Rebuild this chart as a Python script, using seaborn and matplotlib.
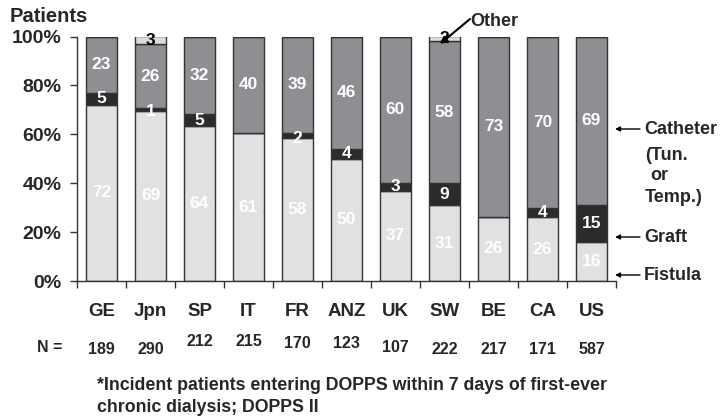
#!/usr/bin/env python3
import numpy as np
import pandas as pd
import seaborn as sns
import matplotlib.pyplot as plt

countries = ["GE", "Jpn", "SP", "IT", "FR", "ANZ", "UK", "SW", "BE", "CA", "US"]
n_patients = [189, 290, 212, 215, 170, 123, 107, 222, 217, 171, 587]
fistula = [72, 69, 64, 61, 58, 50, 37, 31, 26, 26, 16]
graft = [5, 1, 5, 0, 2, 4, 3, 9, 0, 4, 15]
catheter = [23, 26, 32, 40, 39, 46, 60, 58, 73, 70, 69]
other = [0, 3, 0, 0, 0, 0, 0, 2, 0, 0, 0]

W, H = 722, 418
# vertical pixel position of each N label (they are not on one line in the original)
n_ypx = [350, 350, 342, 342, 343, 343, 347, 350, 350, 350, 350]


def fx(px):
    return px / W


def fy(py):
    return 1 - py / H


def main():
    sns.set_style("white")
    plt.rcParams["font.family"] = ["Liberation Sans", "DejaVu Sans"]
    plt.rcParams["font.weight"] = "bold"

    df = pd.DataFrame({"country": countries, "fistula": fistula, "graft": graft,
                       "catheter": catheter, "other": other})
    total = df[["fistula", "graft", "catheter", "other"]].sum(axis=1)
    layers = [("fistula", "#e1e1e3", "white"),
              ("graft", "#2b2b2b", "white"),
              ("catheter", "#8e8f92", "white"),
              ("other", "#dcdcdc", "black")]

    fig = plt.figure(figsize=(W / 100, H / 100), dpi=100)
    ax = fig.add_axes([fx(77), fy(281), fx(616) - fx(77), fy(36.5) - fy(281)])

    bottom = np.zeros(len(df))
    for col, color, tc in layers:
        h = (df[col] / total * 100).to_numpy()
        sns.barplot(x=df["country"], y=h, bottom=bottom, color=color, saturation=1,
                    width=0.63, edgecolor="#333333", linewidth=1, ax=ax)
        for i, v in enumerate(df[col]):
            if v > 0:
                y = bottom[i] + h[i] / 2
                if col == "graft" and h[i] < 3:
                    y = bottom[i] - 0.5
                ax.text(i, y, str(v), ha="center", va="center", color=tc,
                        fontsize=12.5, fontweight="bold")
        bottom += h

    ax.set_xlim(-0.5, len(df) - 0.5)
    ax.set_ylim(0, 100)
    ax.set_yticks(range(0, 101, 20))
    ax.set_yticklabels([f"{t}%" for t in range(0, 101, 20)], fontsize=14, fontweight="bold")
    ax.set_xticks(np.arange(-0.5, len(df), 1))
    ax.set_xticklabels([])
    ax.tick_params(axis="both", direction="out", length=5, width=1, color="#333333",
                   left=True, bottom=True)
    ax.tick_params(axis="y", pad=6)
    ax.set_xlabel("")
    ax.set_ylabel("")
    for s in ["top", "right"]:
        ax.spines[s].set_visible(False)
    for s in ["left", "bottom"]:
        ax.spines[s].set_color("#333333")
        ax.spines[s].set_linewidth(1)

    # country labels and N row
    for i, (c, n) in enumerate(zip(countries, n_patients)):
        ax.text(i, -12.5, c, ha="center", va="center", fontsize=13.5, fontweight="bold",
                clip_on=False)
        xf = ax.transData.transform((i, 0))[0] / fig.dpi / fig.get_figwidth()
        fig.text(xf, fy(n_ypx[i]), str(n), ha="center", va="center", fontsize=11.5,
                 fontweight="bold")
    fig.text(fx(37), fy(347), "N =", ha="left", va="center", fontsize=11.5, fontweight="bold")

    fig.text(fx(10), fy(17), "Patients", ha="left", va="center", fontsize=14.5, fontweight="bold")
    fig.text(fx(97), fy(385), "*Incident patients entering DOPPS within 7 days of first-ever",
             ha="left", va="center", fontsize=12.8, fontweight="bold")
    fig.text(fx(97), fy(408), "chronic dialysis; DOPPS II",
             ha="left", va="center", fontsize=12.8, fontweight="bold")

    # right side annotations
    arrow = dict(arrowstyle="-|>", lw=1, color="black", mutation_scale=7, shrinkA=0, shrinkB=0)
    for ypx, label in [(129, "Catheter"), (237, "Graft"), (275, "Fistula")]:
        fig.text(fx(644), fy(ypx), label, ha="left", va="center", fontsize=13, fontweight="bold")
        ax.annotate("", xy=(fx(615), fy(ypx)), xycoords="figure fraction",
                    xytext=(fx(640), fy(ypx)), textcoords="figure fraction",
                    arrowprops=arrow)
    fig.text(fx(645), fy(155), "(Tun.", ha="left", va="center", fontsize=13, fontweight="bold")
    fig.text(fx(650), fy(176), "or", ha="left", va="center", fontsize=13, fontweight="bold")
    fig.text(fx(645), fy(197), "Temp.)", ha="left", va="center", fontsize=13, fontweight="bold")

    fig.text(fx(470), fy(21), "Other", ha="left", va="center", fontsize=13, fontweight="bold")
    ax.annotate("", xy=(fx(440), fy(44)), xycoords="figure fraction",
                xytext=(fx(470), fy(19)), textcoords="figure fraction",
                arrowprops=dict(arrowstyle="-|>", lw=1.5, color="black", mutation_scale=10,
                                shrinkA=0, shrinkB=0))

    fig.savefig("out.png", dpi=100)


if __name__ == '__main__':
    main()
